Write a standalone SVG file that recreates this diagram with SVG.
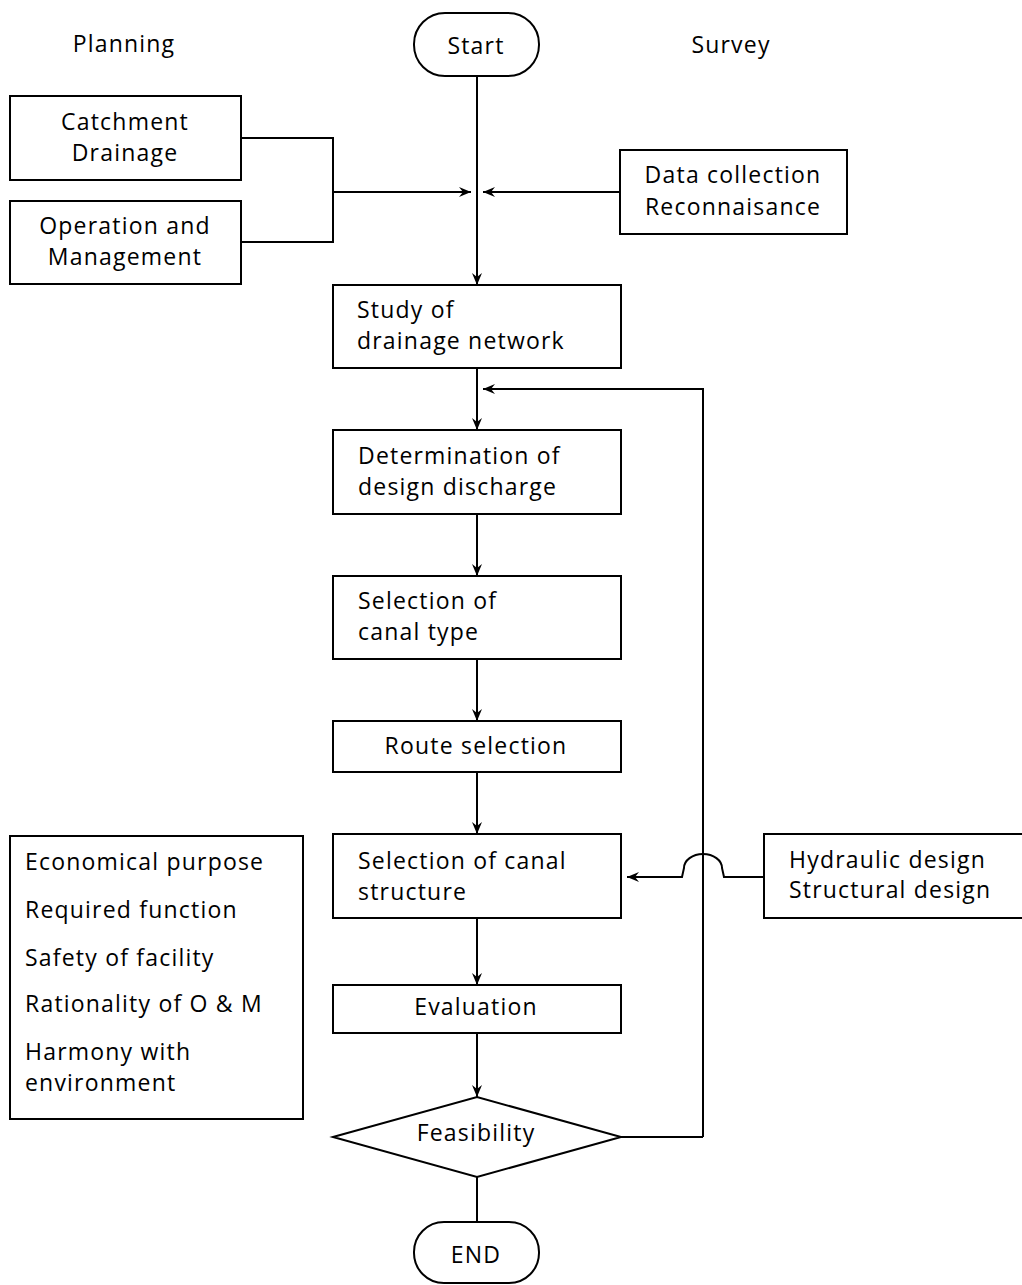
<svg xmlns="http://www.w3.org/2000/svg" width="1022" height="1285" viewBox="0 0 1022 1285">
<style>
.b{fill:#fff;stroke:#000;stroke-width:2}
.l{fill:none;stroke:#000;stroke-width:2}
text{font-family:"Open Sans","Noto Sans","Liberation Sans",sans-serif;font-size:23px;letter-spacing:1.2px;fill:#000}
.c{text-anchor:middle}
</style>
<defs>
<marker id="ar" viewBox="0 0 12 10" refX="12" refY="5" markerWidth="12" markerHeight="10" markerUnits="userSpaceOnUse" orient="auto">
<path d="M0,0 L12,5 L0,10 L4,5 Z" fill="#000"/>
</marker>
</defs>
<rect width="1022" height="1285" fill="#fff"/>
<g id="connectors">
<path class="l" d="M241,138 H333 V242 H241"/>
<path class="l" d="M333,192 H471" marker-end="url(#ar)"/>
<path class="l" d="M620,192 H483" marker-end="url(#ar)"/>
<path class="l" d="M477,76 V285" marker-end="url(#ar)"/>
<path class="l" d="M477,368 V430" marker-end="url(#ar)"/>
<path class="l" d="M703,1137 V389 H483" marker-end="url(#ar)"/>
<path class="l" d="M621,1137 H703"/>
<path class="l" d="M477,514 V576" marker-end="url(#ar)"/>
<path class="l" d="M477,659 V721" marker-end="url(#ar)"/>
<path class="l" d="M477,772 V834" marker-end="url(#ar)"/>
<path class="l" d="M764,877 H724 L722,868 A19,14 0 0 0 684,868 L682,877 H627" marker-end="url(#ar)"/>
<path class="l" d="M477,918 V985" marker-end="url(#ar)"/>
<path class="l" d="M477,1033 V1097" marker-end="url(#ar)"/>
<path class="l" d="M477,1177 V1222"/>
</g>
<g id="planning"><text class="c" x="124" y="52">Planning</text></g>
<g id="survey"><text class="c" x="731" y="53">Survey</text></g>
<g id="start"><rect class="b" x="414" y="13" width="125" height="63" rx="31"/><text class="c" x="476" y="54">Start</text></g>
<g id="catchment"><rect class="b" x="10" y="96" width="231" height="84"/><text class="c" x="125" y="130">Catchment</text><text class="c" x="125" y="161">Drainage</text></g>
<g id="operation"><rect class="b" x="10" y="201" width="231" height="83"/><text class="c" x="125" y="234">Operation and</text><text class="c" x="125" y="265">Management</text></g>
<g id="data"><rect class="b" x="620" y="150" width="227" height="84"/><text class="c" x="733" y="183">Data collection</text><text class="c" x="733" y="215">Reconnaisance</text></g>
<g id="study"><rect class="b" x="333" y="285" width="288" height="83"/><text x="357" y="318">Study of</text><text x="357" y="349">drainage network</text></g>
<g id="determination"><rect class="b" x="333" y="430" width="288" height="84"/><text x="358" y="464">Determination of</text><text x="358" y="495">design discharge</text></g>
<g id="canaltype"><rect class="b" x="333" y="576" width="288" height="83"/><text x="358" y="609">Selection of</text><text x="358" y="640">canal type</text></g>
<g id="route"><rect class="b" x="333" y="721" width="288" height="51"/><text class="c" x="476" y="754">Route selection</text></g>
<g id="structure"><rect class="b" x="333" y="834" width="288" height="84"/><text x="358" y="869">Selection of canal</text><text x="358" y="900">structure</text></g>
<g id="hydraulic"><rect class="b" x="764" y="834" width="262" height="84"/><text x="789" y="868">Hydraulic design</text><text x="789" y="898">Structural design</text></g>
<g id="criteria"><rect class="b" x="10" y="836" width="293" height="283"/>
<text x="25" y="870">Economical purpose</text>
<text x="25" y="918">Required function</text>
<text x="25" y="966">Safety of facility</text>
<text x="25" y="1012">Rationality of O &amp; M</text>
<text x="25" y="1060">Harmony with</text>
<text x="25" y="1091">environment</text></g>
<g id="evaluation"><rect class="b" x="333" y="985" width="288" height="48"/><text class="c" x="476" y="1015">Evaluation</text></g>
<g id="feasibility"><polygon class="b" points="333,1137 477,1097 621,1137 477,1177"/><text class="c" x="476" y="1141">Feasibility</text></g>
<g id="end"><rect class="b" x="414" y="1222" width="125" height="61" rx="30"/><text class="c" x="476" y="1263">END</text></g>
</svg>
